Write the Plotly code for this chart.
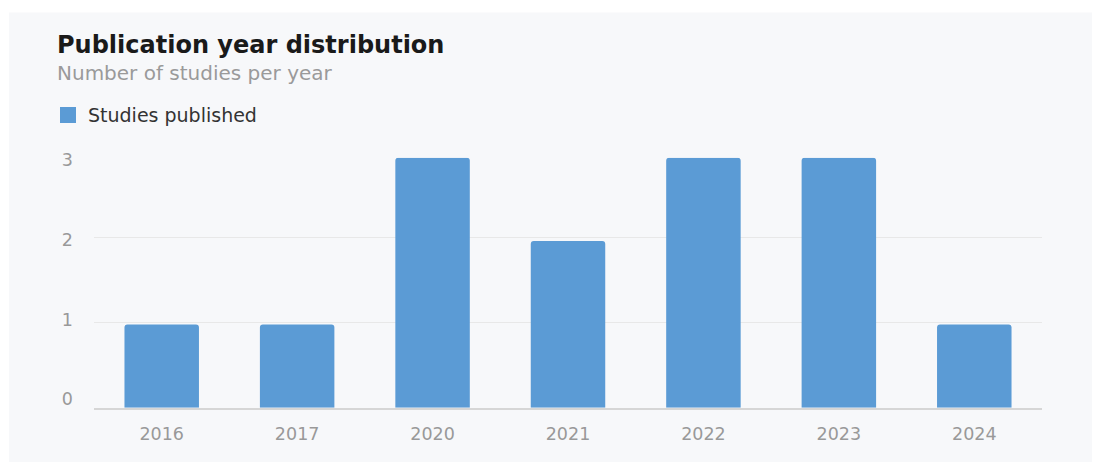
import plotly.graph_objects as go

years = ["2016", "2017", "2020", "2021", "2022", "2023", "2024"]
studies = [1, 1, 3, 2, 3, 3, 1]
series_name = "Studies published"
title_text = "Publication year distribution"
subtitle_text = "Number of studies per year"

W, H = 1094, 472
FONT = "DejaVu Sans, Liberation Sans, Arial, sans-serif"
BAR_COLOR = "#5b9bd5"

# the page is photographed slightly squeezed vertically; map target pixel rows
def px_x(p):
    return p / W

def row(p):
    return (p - 10.6) / 0.957

def px_y(p):
    return 1 - row(p) / H

fig = go.Figure()
# grid carrier (first subplot, drawn underneath)
fig.add_trace(go.Scatter(
    x=[None], y=[None], mode="markers", yaxis="y", showlegend=False, hoverinfo="skip",
))
# legend entry with a larger swatch (also carries the tick-label axis)
fig.add_trace(go.Scatter(
    x=[None], y=[None], mode="markers", name=series_name, yaxis="y2",
    marker=dict(symbol="square", size=16, color=BAR_COLOR),
    showlegend=True, hoverinfo="skip",
))
# the bars
fig.add_trace(go.Bar(
    x=years, y=studies, name=series_name, yaxis="y3",
    marker=dict(color=BAR_COLOR, line=dict(width=0), cornerradius=3),
    showlegend=False,
))

fig.update_layout(
    width=W, height=H, autosize=False,
    margin=dict(l=0, r=0, t=0, b=0),
    paper_bgcolor="#ffffff",
    plot_bgcolor="rgba(0,0,0,0)",
    bargap=0.45,
    font=dict(family=FONT, color="#999999", size=16),
    xaxis=dict(
        type="category",
        domain=[px_x(94), px_x(1042)],
        categoryorder="array", categoryarray=years,
        showgrid=False, ticks="", showline=True, linecolor="#d6d6d6", linewidth=1.5,
        tickfont=dict(size=17.5, color="#999999"),
        ticklabelstandoff=10,
        zeroline=False,
    ),
    yaxis=dict(
        domain=[px_y(408), px_y(153)],
        range=[0, 3], dtick=1, showgrid=True, gridcolor="#e8e8e8", gridwidth=1,
        zeroline=False, showline=False, ticks="", showticklabels=False,
    ),
    yaxis2=dict(
        domain=[px_y(399.5), px_y(160.5)], anchor="x",
        range=[0, 3], dtick=1, showgrid=False,
        zeroline=False, showline=False, ticks="",
        tickfont=dict(size=17.5, color="#999999"),
        ticklabelstandoff=20,
    ),
    yaxis3=dict(
        domain=[px_y(408), px_y(158.3)], anchor="x",
        range=[0, 3], showgrid=False, zeroline=False, showline=False,
        ticks="", showticklabels=False,
    ),
    legend=dict(
        orientation="h", x=px_x(48), y=1 - 90 / H, xanchor="left", yanchor="top",
        font=dict(size=19, color="#333333", family=FONT),
        bgcolor="rgba(0,0,0,0)", itemsizing="trace",
    ),
    shapes=[dict(
        type="rect", xref="paper", yref="paper",
        x0=px_x(9), x1=px_x(1092), y0=0, y1=px_y(13),
        fillcolor="#f7f8fa", line=dict(width=0), layer="below",
    )],
    annotations=[
        dict(text="<b>" + title_text + "</b>", xref="paper", yref="paper",
             x=px_x(55), y=px_y(46), xanchor="left", yanchor="middle",
             showarrow=False, font=dict(size=24, color="#1a1a1a", family=FONT)),
        dict(text=subtitle_text, xref="paper", yref="paper",
             x=px_x(55), y=px_y(74), xanchor="left", yanchor="middle",
             showarrow=False, font=dict(size=20, color="#9a9a9a", family=FONT)),
    ],
)

fig.write_html(
    "out.html",
    config={"displayModeBar": False},
    post_script=(
        "document.body.style.margin='0';document.body.style.padding='0';"
        "var d=document.getElementById('{plot_id}');"
        "d.style.position='fixed';d.style.top='0px';d.style.left='0px';"
    ),
)
